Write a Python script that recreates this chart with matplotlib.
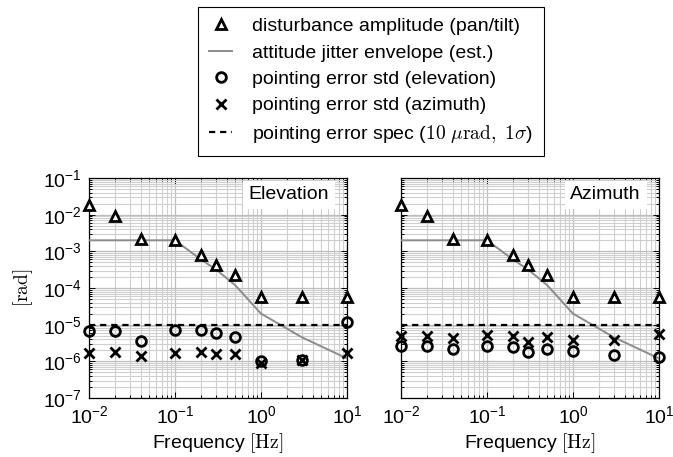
import numpy as np
import matplotlib
matplotlib.use("Agg")
import matplotlib.pyplot as plt
from matplotlib.ticker import LogLocator, NullFormatter
from matplotlib.font_manager import FontProperties

plt.rcParams['font.family'] = ['Liberation Sans', 'DejaVu Sans']
plt.rcParams['font.size'] = 14
plt.rcParams['mathtext.fontset'] = 'custom'
plt.rcParams['mathtext.rm'] = 'Liberation Sans'
plt.rcParams['mathtext.it'] = 'Liberation Sans:italic'
plt.rcParams['mathtext.bf'] = 'Liberation Sans:bold'

# Daten
freq = [0.01, 0.02, 0.04, 0.1, 0.2, 0.3, 0.5, 1.0, 3.0, 10.0]
dist_amp = [1.8e-2, 9e-3, 2.2e-3, 2.1e-3, 8e-4, 4.3e-4, 2.2e-4, 5.6e-5, 5.6e-5, 5.6e-5]

jitter_freq = [0.01, 0.1, 0.2, 0.3, 0.5, 1.0, 3.0, 10.0]
jitter_env = [2e-3, 2e-3, 6e-4, 3.2e-4, 1.2e-4, 2e-5, 4.5e-6, 1.2e-6]

spec = 1e-5

# Panel Elevation
el_elev_std = [6.6e-6, 6.6e-6, 3.5e-6, 7.3e-6, 7e-6, 5.9e-6, 4.5e-6, 1.05e-6, 1.1e-6, 1.2e-5]
el_az_std = [1.7e-6, 1.8e-6, 1.4e-6, 1.7e-6, 1.8e-6, 1.6e-6, 1.6e-6, 0.9e-6, 1.1e-6, 1.7e-6]

# Panel Azimuth
az_elev_std = [2.6e-6, 2.7e-6, 2.2e-6, 2.6e-6, 2.4e-6, 1.8e-6, 2.2e-6, 1.9e-6, 1.5e-6, 1.3e-6]
az_az_std = [5e-6, 5e-6, 4.4e-6, 5.2e-6, 4.8e-6, 3.3e-6, 4.5e-6, 3.9e-6, 3.9e-6, 5.6e-6]

panels = [
    ("Elevation", el_elev_std, el_az_std),
    ("Azimuth", az_elev_std, az_az_std),
]

labels = [
    'disturbance amplitude (pan/tilt)',
    'attitude jitter envelope (est.)',
    'pointing error std (elevation)',
    'pointing error std (azimuth)',
    r'pointing error spec ($10\ \mathrm{\mu rad},\ 1\sigma$)',
]

W, H = 673, 457
fig = plt.figure(figsize=(W / 100, H / 100), dpi=100)

ax_pos = [(89, 178, 258, 220), (401, 178, 258, 220)]
axes = []
for (x0, y0, w, h) in ax_pos:
    axes.append(fig.add_axes([x0 / W, 1 - (y0 + h) / H, w / W, h / H]))

mew = 2.0
for ax, (name, elev_std, az_std) in zip(axes, panels):
    ax.set_xscale('log')
    ax.set_yscale('log')
    ax.set_xlim(1e-2, 1e1)
    ax.set_ylim(1e-7, 1e-1)

    ax.xaxis.set_major_locator(LogLocator(base=10, numticks=10))
    ax.xaxis.set_minor_locator(LogLocator(base=10, subs=np.arange(2, 10), numticks=50))
    ax.yaxis.set_major_locator(LogLocator(base=10, numticks=10))
    ax.yaxis.set_minor_locator(LogLocator(base=10, subs=np.arange(2, 10), numticks=50))
    ax.xaxis.set_minor_formatter(NullFormatter())
    ax.yaxis.set_minor_formatter(NullFormatter())

    ax.grid(True, which='major', color='#bdbdbd', lw=0.9)
    ax.grid(True, which='minor', color='#cfcfcf', lw=0.8)
    ax.set_axisbelow(True)

    ax.tick_params(which='both', direction='in', top=True, right=True, width=0.7)
    ax.tick_params(which='major', length=4.5, pad=5)
    ax.tick_params(which='minor', length=2.5)
    for sp in ax.spines.values():
        sp.set_linewidth(0.9)

    h1, = ax.plot(freq, dist_amp, ls='none', marker='^', ms=7, mfc='white',
                  mec='black', mew=mew, clip_on=False, zorder=5)
    h2, = ax.plot(jitter_freq, jitter_env, color='#8c8c8c', lw=1.4, zorder=3)
    h3, = ax.plot(freq, elev_std, ls='none', marker='o', ms=7, mfc='none',
                  mec='black', mew=mew, clip_on=False, zorder=5)
    h4, = ax.plot(freq, az_std, ls='none', marker='x', ms=7, color='black',
                  mew=mew, clip_on=False, zorder=5)
    h5 = ax.axhline(spec, color='black', lw=1.6, ls=(0, (2.8, 2.2)), zorder=4)

    ax.text(0.93, 0.923, name, transform=ax.transAxes, ha='right', va='center',
            bbox=dict(fc='white', ec='none', pad=4), zorder=6)

    ax.set_xlabel(r'Frequency $[\mathrm{Hz}]$', math_fontfamily='cm', labelpad=3)

handles = [h1, h2, h3, h4, h5]

axes[0].set_ylabel(r'$[\mathrm{rad}]$', math_fontfamily='cm')
axes[0].yaxis.set_label_coords(-0.21, 0.5)
axes[1].tick_params(labelleft=False)

leg_font = FontProperties(family='Liberation Sans', size=14, math_fontfamily='cm')
leg = fig.legend(handles, labels, loc='upper center',
                 bbox_to_anchor=(371 / W, 1 - 7 / H), prop=leg_font,
                 frameon=True, fancybox=False, framealpha=1, edgecolor='black',
                 borderpad=0.55, labelspacing=0.45, handlelength=1.2,
                 handletextpad=1.0, borderaxespad=0)
leg.get_frame().set_linewidth(0.8)

fig.savefig('out.png', dpi=100)
